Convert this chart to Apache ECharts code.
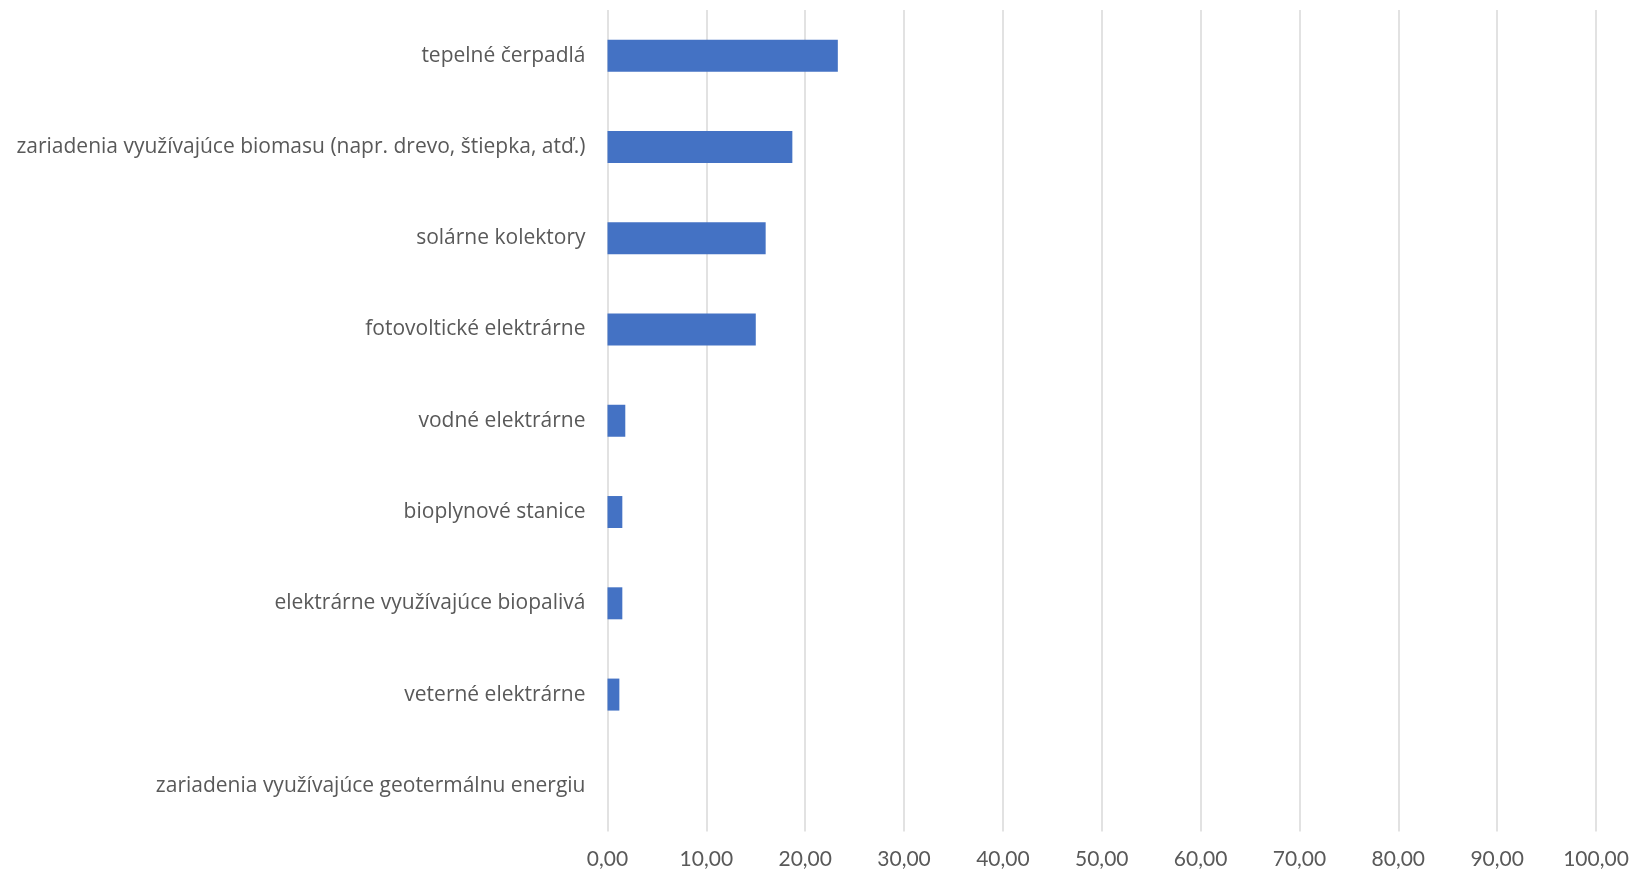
<!DOCTYPE html>
<html>
<head>
<meta charset="utf-8">
<script src="https://cdn.jsdelivr.net/npm/echarts@6/dist/echarts.min.js"></script>
<style>
html,body{margin:0;padding:0;background:#fff;}
#chart{width:1632px;height:875px;}
</style>
</head>
<body>
<div id="chart"></div>
<script>
const categories = [
  "tepelné čerpadlá",
  "zariadenia využívajúce biomasu (napr. drevo, štiepka, atď.)",
  "solárne kolektory",
  "fotovoltické elektrárne",
  "vodné elektrárne",
  "bioplynové stanice",
  "elektrárne využívajúce biopalivá",
  "veterné elektrárne",
  "zariadenia využívajúce geotermálnu energiu"
];
const values = [23.3, 18.7, 16.0, 15.0, 1.8, 1.5, 1.5, 1.2, 0];
const xTicks = [0, 10, 20, 30, 40, 50, 60, 70, 80, 90, 100];

const chart = echarts.init(document.getElementById('chart'), null, {renderer: 'canvas'});
chart.setOption({
  animation: false,
  backgroundColor: '#ffffff',
  grid: {left: 607.5, right: 36, top: 10, bottom: 43.5, containLabel: false},
  xAxis: {
    type: 'value',
    min: xTicks[0],
    max: xTicks[xTicks.length - 1],
    interval: 10,
    axisLine: {show: false},
    axisTick: {show: false},
    splitLine: {show: true, lineStyle: {color: '#d9d9d9', width: 1.5}},
    axisLabel: {
      color: '#595959',
      fontFamily: 'Lato',
      fontSize: 21,
      margin: 17,
      formatter: v => v.toFixed(2).replace('.', ',')
    }
  },
  yAxis: {
    type: 'category',
    data: categories,
    inverse: true,
    axisLine: {show: false},
    axisTick: {show: false},
    splitLine: {show: false},
    axisLabel: {
      color: '#595959',
      fontFamily: 'Open Sans',
      fontSize: 21,
      margin: 22
    }
  },
  series: [{
    type: 'bar',
    data: values,
    barWidth: 32,
    itemStyle: {color: '#4472C4'}
  }]
});
</script>
</body>
</html>
